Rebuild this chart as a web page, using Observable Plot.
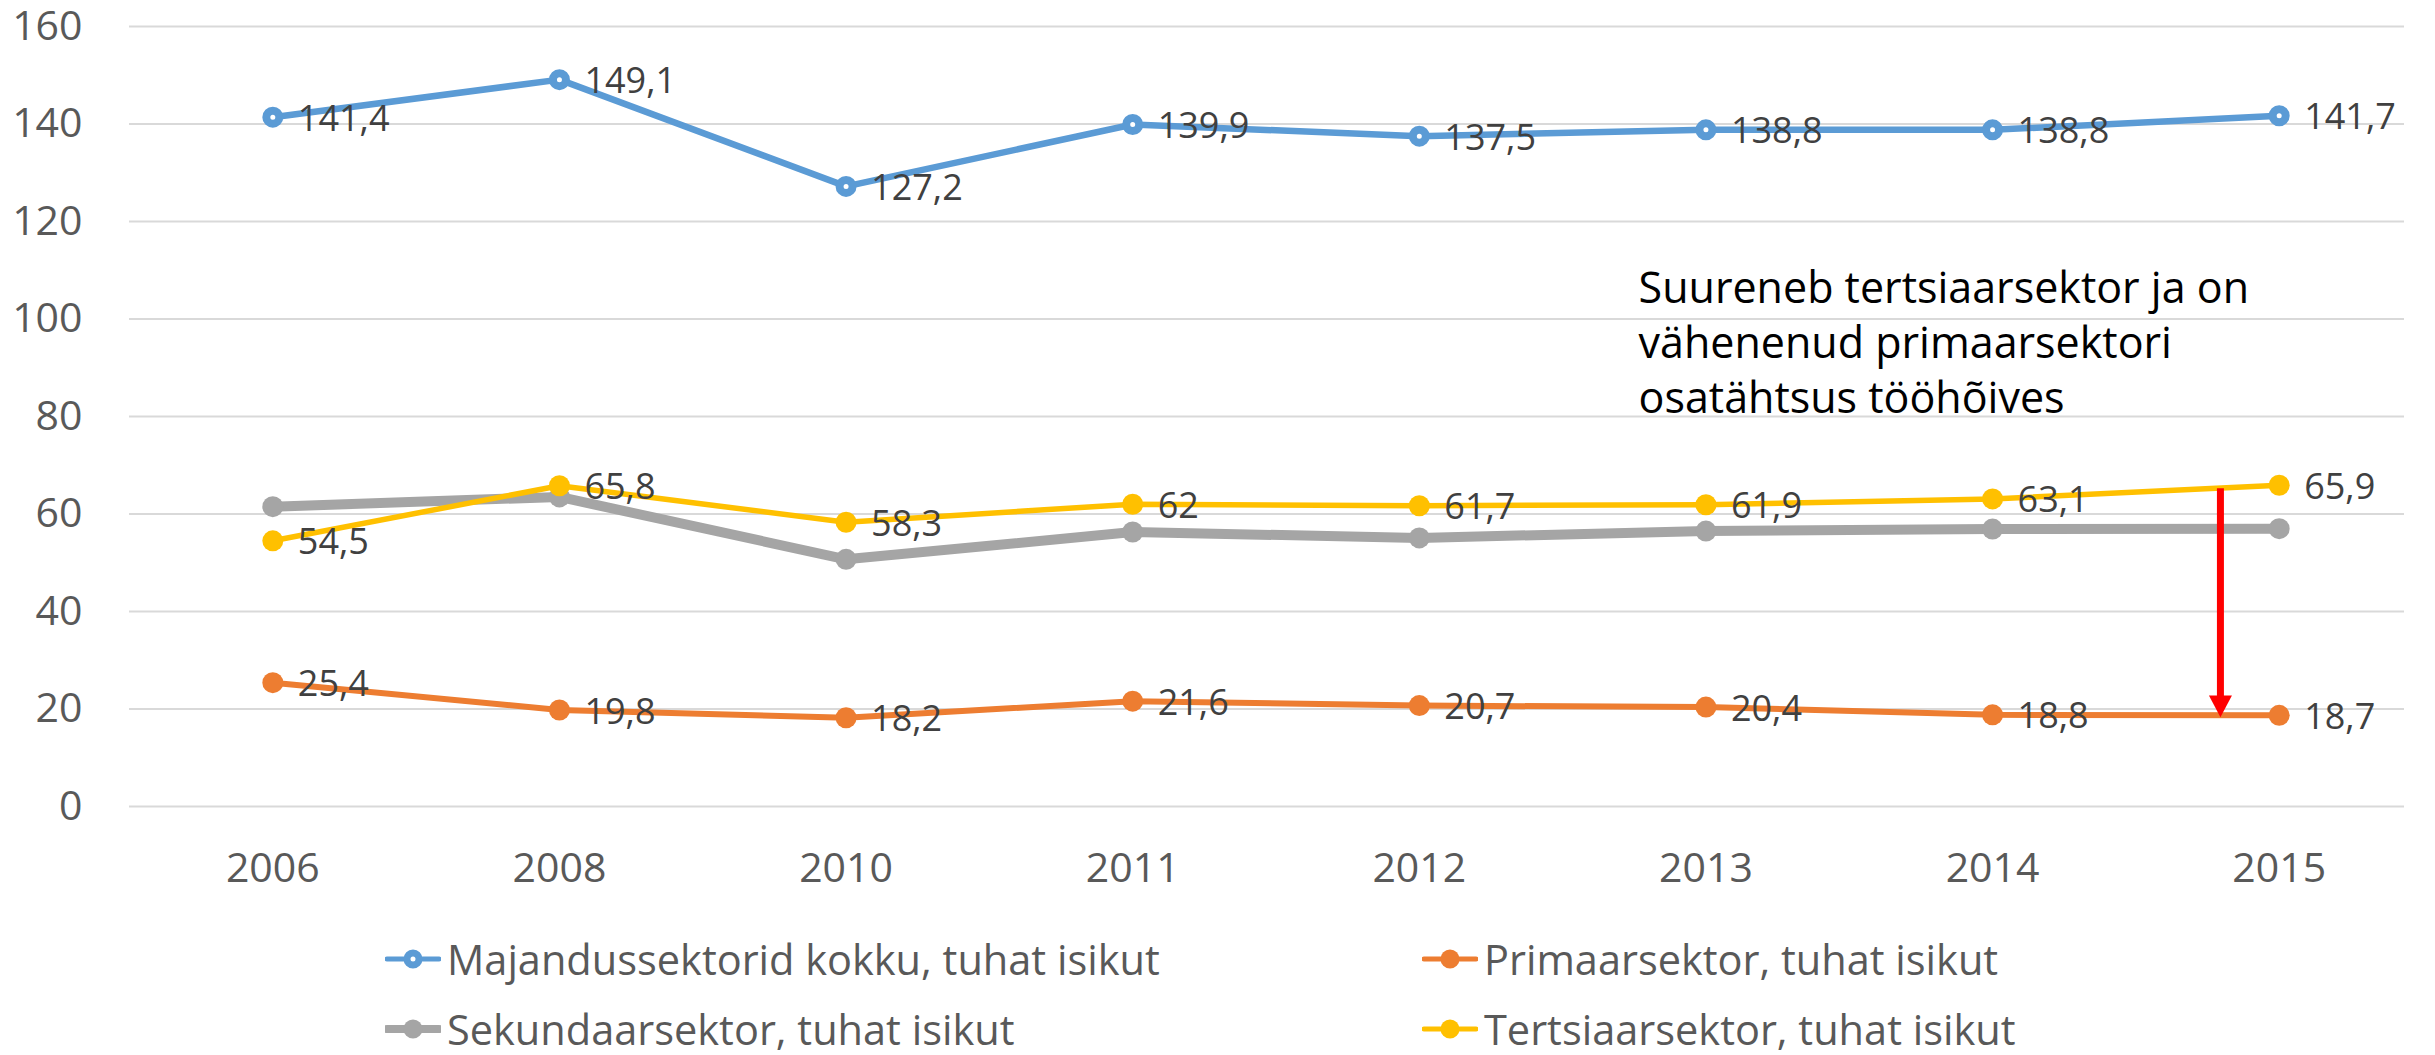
<!DOCTYPE html>
<html>
<head>
<meta charset="utf-8">
<script src="https://cdn.jsdelivr.net/npm/d3@7"></script>
<script src="https://cdn.jsdelivr.net/npm/@observablehq/plot@0.6"></script>
<style>
  body { margin: 0; background: #fff; font-family: "Open Sans", "Liberation Sans", sans-serif; }
  #chart { width: 2435px; }
  .legend { position: relative; width: 2435px; height: 145px; }
  .item { position: absolute; display: flex; align-items: center; height: 60px;
          font-size: 41.5px; color: #595959; white-space: nowrap; }
  .item svg { margin-right: 6px; flex: none; }
</style>
</head>
<body>
<div id="chart"></div>
<div class="legend" id="legend"></div>
<script>
// ---- data ----
const years = ["2006", "2008", "2010", "2011", "2012", "2013", "2014", "2015"];
const total     = [141.4, 149.1, 127.2, 139.9, 137.5, 138.8, 138.8, 141.7];
const primary   = [25.4, 19.8, 18.2, 21.6, 20.7, 20.4, 18.8, 18.7];
const secondary = [61.5, 63.5, 50.7, 56.3, 55.1, 56.5, 56.9, 57.0];
const tertiary  = [54.5, 65.8, 58.3, 62, 61.7, 61.9, 63.1, 65.9];
const seriesNames = [
  "Majandussektorid kokku, tuhat isikut",
  "Primaarsektor, tuhat isikut",
  "Sekundaarsektor, tuhat isikut",
  "Tertsiaarsektor, tuhat isikut"
];
const yTicks = [0, 20, 40, 60, 80, 100, 120, 140, 160];
const annotationText = "Suureneb tertsiaarsektor ja on\nvähenenud primaarsektori\nosatähtsus tööhõives";
// annotation anchors in data units (x = category index)
const annotationAt = [{x: 4.765, y: 111.3}];
const arrowAt = [{x: 6.795, y1: 65.2, y2: 18.3}];

// ---- styles ----
const seriesValues = [total, primary, secondary, tertiary];
const seriesColors = ["#5b9bd5", "#ed7d31", "#a5a5a5", "#ffc000"];
const seriesWidths = [6.5, 6, 10, 5.5];
const seriesHollow = [true, false, false, false];
const seriesLabeled = [true, true, false, true];

const fmt = v => String(v).replace(".", ",");

const series = seriesValues.map((vals, s) => vals.map((v, i) => ({i, v, s})));

const marks = [
  Plot.ruleY(yTicks, {stroke: "#d9d9d9", strokeWidth: 2, insetRight: 18}),
  Plot.axisY({ticks: yTicks, tickSize: 0, tickPadding: 47, fontSize: 41, label: null}),
  Plot.axisX({ticks: d3.range(years.length), tickFormat: i => years[i], tickSize: 0,
              tickPadding: 46, fontSize: 41, label: null})
];

series.forEach((rows, s) => {
  marks.push(Plot.line(rows, {x: "i", y: "v", stroke: seriesColors[s], strokeWidth: seriesWidths[s],
                              strokeLinejoin: "round", strokeLinecap: "round"}));
  if (seriesHollow[s]) {
    marks.push(Plot.dot(rows, {x: "i", y: "v", r: 6.5, fill: "white", stroke: seriesColors[s], strokeWidth: 8}));
  } else {
    marks.push(Plot.dot(rows, {x: "i", y: "v", r: 10.5, fill: seriesColors[s], stroke: "none"}));
  }
});

series.forEach((rows, s) => {
  if (!seriesLabeled[s]) return;
  marks.push(Plot.text(rows, {x: "i", y: "v", text: d => fmt(d.v), textAnchor: "start",
                              dx: 25, dy: 2, fontSize: 36, fill: "#404040"}));
});

marks.push(Plot.text(annotationAt, {x: "x", y: "y", text: () => annotationText, textAnchor: "start",
                                    lineAnchor: "top", lineHeight: 1.28, fontSize: 43, fill: "#000"}));

const downTriangle = {
  draw(ctx, size) {
    const r = Math.sqrt(size / Math.PI);
    ctx.moveTo(-r, -1.9 * r);
    ctx.lineTo(r, -1.9 * r);
    ctx.lineTo(0, 0);
    ctx.closePath();
  }
};
marks.push(Plot.ruleX(arrowAt, {x: "x", y1: "y1", y2: "y2", stroke: "#ff0000", strokeWidth: 7, insetBottom: 20}));
marks.push(Plot.dot(arrowAt, {x: "x", y: "y2", r: 11.5, symbol: downTriangle, fill: "#ff0000", stroke: "none"}));

const chart = Plot.plot({
  width: 2435,
  height: 910,
  marginLeft: 129,
  marginRight: 13,
  marginTop: 26,
  marginBottom: 104,
  style: {fontFamily: '"Open Sans", "Liberation Sans", sans-serif', color: "#595959", background: "white", overflow: "visible"},
  x: {type: "linear", domain: [-0.5, years.length - 0.5]},
  y: {domain: [0, 160]},
  marks
});
document.getElementById("chart").appendChild(chart);

// ---- legend (HTML below the SVG) ----
const legendPos = [
  {left: 385, top: 19}, {left: 1422, top: 19},
  {left: 385, top: 89}, {left: 1422, top: 89}
];
const legend = document.getElementById("legend");
seriesNames.forEach((name, s) => {
  const item = document.createElement("div");
  item.className = "item";
  item.style.left = legendPos[s].left + "px";
  item.style.top = legendPos[s].top + "px";
  const c = seriesColors[s];
  const lw = s === 2 ? 8 : 5;
  const marker = seriesHollow[s]
    ? `<circle cx="28" cy="15" r="6" fill="white" stroke="${c}" stroke-width="7"/>`
    : `<circle cx="28" cy="15" r="9.5" fill="${c}"/>`;
  item.innerHTML = `<svg width="56" height="30"><line x1="2" x2="54" y1="15" y2="15" stroke="${c}" stroke-width="${lw}" stroke-linecap="round"/>${marker}</svg><span>${name}</span>`;
  legend.appendChild(item);
});
</script>
</body>
</html>
